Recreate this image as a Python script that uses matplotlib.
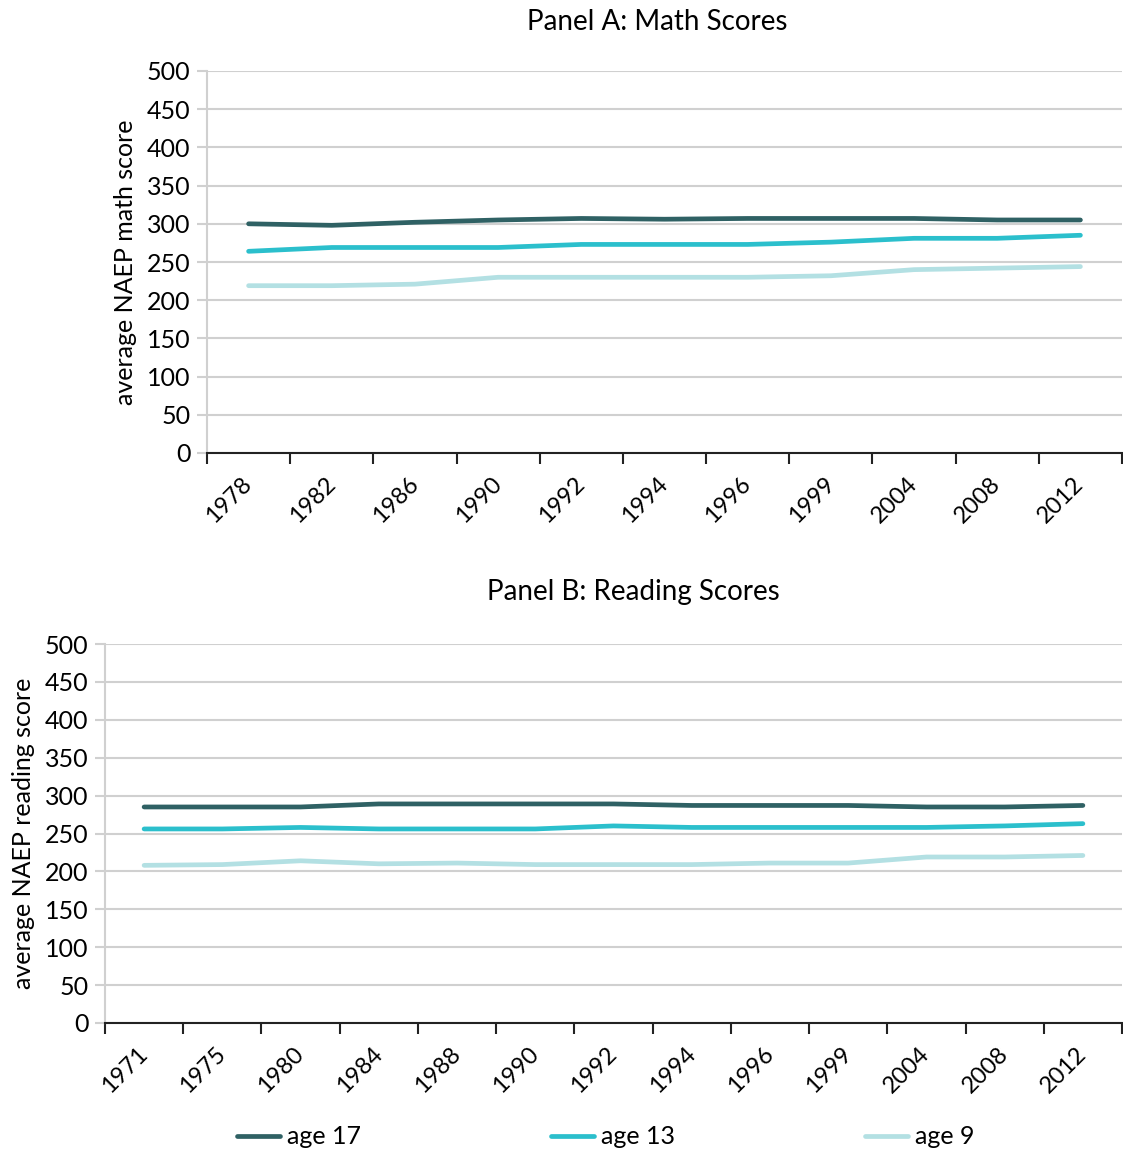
import numpy as np
import matplotlib.pyplot as plt

# NAEP long-term trend averages
math_years = ["1978", "1982", "1986", "1990", "1992", "1994", "1996", "1999", "2004", "2008", "2012"]
math_age17 = [300, 298, 302, 305, 307, 306, 307, 307, 307, 305, 305]
math_age13 = [264, 269, 269, 269, 273, 273, 273, 276, 281, 281, 285]
math_age9 = [219, 219, 221, 230, 230, 230, 230, 232, 240, 242, 244]

read_years = ["1971", "1975", "1980", "1984", "1988", "1990", "1992", "1994", "1996", "1999", "2004", "2008", "2012"]
read_age17 = [285, 285, 285, 289, 289, 289, 289, 287, 287, 287, 285, 285, 287]
read_age13 = [256, 256, 258, 256, 256, 256, 260, 258, 258, 258, 258, 260, 263]
read_age9 = [208, 209, 214, 210, 211, 209, 209, 209, 211, 211, 219, 219, 221]

series_names = ["age 17", "age 13", "age 9"]
colors = ["#2f6164", "#2bbfcc", "#b3e0e3"]

plt.rcParams['font.family'] = ['Lato', 'DejaVu Sans']

W, H = 1123, 1153
fig = plt.figure(figsize=(W / 100, H / 100), dpi=100)


def px_axes(left, top, right, bottom):
    return fig.add_axes([left / W, 1 - bottom / H, (right - left) / W, (bottom - top) / H])


def style_panel(ax, years, ylabel):
    n = len(years)
    ax.set_xlim(0, n)
    ax.set_ylim(0, 500)
    ax.set_yticks(np.arange(0, 501, 50))
    ax.tick_params(axis='y', labelsize=18, length=7, color='#d0d0d0', width=1.5, pad=5)
    ax.grid(axis='y', color='#d0d0d0', lw=1.5)
    ax.set_axisbelow(True)
    # category ticks sit on the boundaries, labels in the middle
    ax.set_xticks(np.arange(0, n + 1))
    ax.set_xticklabels([])
    ax.set_xticks(np.arange(n) + 0.5, minor=True)
    ax.set_xticklabels(years, minor=True, rotation=45, ha='right', va='center',
                       rotation_mode='anchor', fontsize=17)
    ax.tick_params(axis='x', which='major', length=8, width=1.5, color='#222222', direction='out')
    ax.tick_params(axis='x', which='minor', length=0, pad=20)
    for s in ['top', 'right']:
        ax.spines[s].set_visible(False)
    ax.spines['left'].set_color('#d0d0d0')
    ax.spines['left'].set_linewidth(1.5)
    ax.spines['bottom'].set_color('#222222')
    ax.spines['bottom'].set_linewidth(1.5)
    ax.set_ylabel(ylabel, fontsize=18, labelpad=7)


# Panel A
ax1 = px_axes(207, 71, 1122, 453)
x1 = np.arange(len(math_years)) + 0.5
for vals, c, name in zip([math_age17, math_age13, math_age9], colors, series_names):
    ax1.plot(x1, vals, color=c, lw=3.4, label=name, solid_capstyle='round')
style_panel(ax1, math_years, "average NAEP math score")
fig.text(657 / W, 1 - 22 / H, "Panel A: Math Scores", ha='center', va='center', fontsize=20)

# Panel B
ax2 = px_axes(105, 644, 1122, 1023)
x2 = np.arange(len(read_years)) + 0.5
for vals, c, name in zip([read_age17, read_age13, read_age9], colors, series_names):
    ax2.plot(x2, vals, color=c, lw=3.4, label=name, solid_capstyle='round')
style_panel(ax2, read_years, "average NAEP reading score")
fig.text(633 / W, 1 - 592 / H, "Panel B: Reading Scores", ha='center', va='center', fontsize=20)

handles, labels = ax2.get_legend_handles_labels()
fig.legend(handles, labels, loc='center', bbox_to_anchor=(606 / W, 1 - 1137 / H), ncol=3,
           frameon=False, fontsize=18, handlelength=1.7, handletextpad=0.3, columnspacing=7.6)

fig.savefig("out.png", dpi=100)
